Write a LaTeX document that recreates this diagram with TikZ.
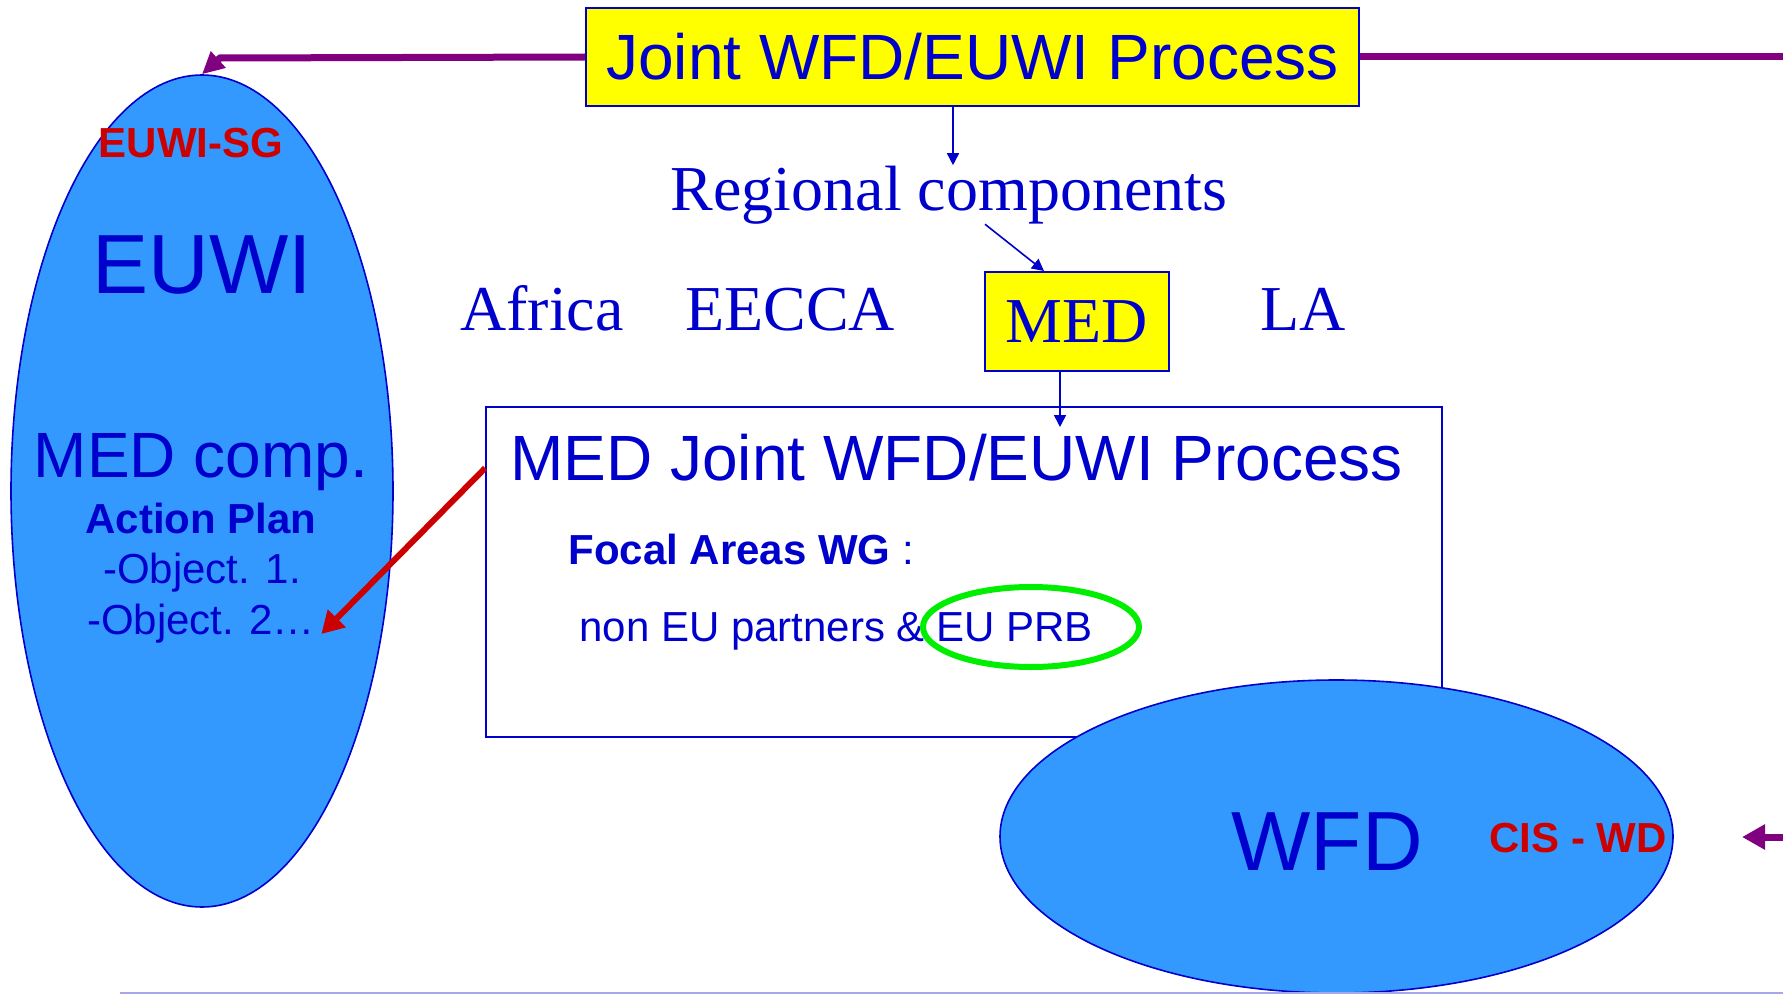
\documentclass[tikz,border=0pt]{standalone}
\usepackage{fontspec}
\setmainfont{Liberation Sans}
\newfontfamily\tiempos{Liberation Serif}
\usepackage{tikz}
\usetikzlibrary{shapes.geometric,arrows.meta}
\usepackage{xcolor}
\definecolor{azultexto}{HTML}{0000CC}
\definecolor{relleno}{HTML}{3399FF}
\definecolor{rojo}{HTML}{CC0000}
\definecolor{morado}{HTML}{800080}
\definecolor{verde}{HTML}{00EE00}
\definecolor{amarillo}{HTML}{FFFF00}
\definecolor{lavanda}{HTML}{A8A8E8}

\begin{document}
\begin{tikzpicture}[x=0.5pt, y=-0.5pt,
    texto/.style={text=azultexto, inner sep=0pt},
    chico/.style={font=\fontsize{21}{25}\selectfont},
    medio/.style={font=\fontsize{32}{38}\selectfont},
    enorme/.style={font=\fontsize{42}{50}\selectfont},
    serifmedio/.style={font=\tiempos\fontsize{32}{38}\selectfont},
    elipse/.style={ellipse, draw=azultexto, fill=relleno, line width=0.8pt, inner sep=0pt},
    caja/.style={rectangle, draw=azultexto, line width=0.8pt, inner sep=0pt},
    amarilla/.style={caja, fill=amarillo, line width=1pt},
    flechaazul/.style={-{Triangle[length=6pt,width=6pt]}, draw=azultexto, line width=0.8pt},
    flechamorada/.style={draw=morado, line width=3.5pt},
    flecharoja/.style={-{Triangle[length=11pt,width=12pt]}, draw=rojo, line width=3pt}]
    % Fijar el marco
    \useasboundingbox (0,0) rectangle (1783,995);

    % Dibujar elipses y caja del proceso MED
    \node[elipse, minimum width=191pt, minimum height=416pt] (euwi) at (202,491) {};
    \node[caja, minimum width=478pt, minimum height=165pt] (medproc) at (964,572) {};
    \node[elipse, minimum width=336.5pt, minimum height=156.5pt] (wfd) at (1336.5,836.5) {};

    % Linea inferior
    \coordinate (lineaini) at (120,993);
    \coordinate (lineafin) at (1783,993);
    \draw[lavanda, line width=0.8pt] (lineaini) -- (lineafin);

    % Caja superior y componentes regionales
    \node[amarilla, texto, medio, minimum width=386.5pt, minimum height=49pt] (joint) at (972.5,57) {Joint WFD/EUWI Process};
    \node[texto, serifmedio, anchor=base] (regional) at (949,210) {Regional components};
    \node[texto, serifmedio, anchor=base] (africa) at (542,330) {Africa};
    \node[texto, serifmedio, anchor=base] (eecca) at (790,330) {EECCA};
    \node[amarilla, texto, serifmedio, minimum width=92pt, minimum height=49.5pt] (med) at (1077,321.5) {MED};
    \node[texto, serifmedio, anchor=base] (la) at (1303,330) {LA};

    % Textos dentro de la caja MED
    \node[texto, medio, anchor=base west] (medtitulo) at (510,480) {MED Joint WFD/EUWI Process};
    \node[texto, chico, anchor=base west] (focal) at (568,564) {\textbf{Focal Areas WG} :};
    \node[texto, chico, anchor=base west] (socios) at (579,641) {non EU partners \& EU PRB};
    \node[ellipse, draw=verde, line width=3pt, inner sep=0pt, minimum width=108pt, minimum height=40pt] (prb) at (1031,627) {};

    % Textos de la elipse EUWI
    \node[chico, anchor=base, text=rojo] (euwisg) at (191,157) {\textbf{EUWI-SG}};
    \node[texto, enorme, anchor=base] (euwititulo) at (202,293) {EUWI};
    \node[texto, medio, anchor=base] (medcomp) at (201,477) {MED comp.};
    \node[texto, chico, anchor=base] (plan) at (201,533) {\textbf{Action Plan}};
    \node[texto, chico, anchor=base] (obj1) at (202,583) {-Object. 1.};
    \node[texto, chico, anchor=base] (obj2) at (201,634) {-Object. 2…};

    % Textos de la elipse WFD
    \node[texto, enorme, anchor=base] (wfdtitulo) at (1327,870) {WFD};
    \node[chico, anchor=base, text=rojo] (cis) at (1578,852) {\textbf{CIS - WD}};

    % Flechas azules
    \draw[flechaazul] ([xshift=-9.75pt]joint.south) -- ([xshift=2pt]regional.north);
    \draw[flechaazul] ([xshift=18pt]regional.south) -- ([xshift=-16.5pt]med.north);
    \coordinate (puntamed) at (1060,427);
    \draw[flechaazul] (med.south -| puntamed) -- (puntamed);

    % Flecha roja hacia el plan de accion
    \draw[flecharoja] ([yshift=52pt]medproc.west) -- ([xshift=3pt]obj2.base east);

    % Conectores morados
    \coordinate (codo) at (220,58);
    \draw[flechamorada, -{Triangle[length=11pt,width=10.5pt]}] (joint.west) -- (codo) -- (euwi.north);
    \coordinate (bordesup) at (1783,57);
    \draw[flechamorada] (joint.east) -- (bordesup);
    \coordinate (bordeinf) at (1783,837);
    \coordinate (puntacis) at (1742,837);
    \draw[flechamorada, -{Triangle[length=11.5pt,width=12pt]}] (bordeinf) -- (puntacis);
\end{tikzpicture}
\end{document}
